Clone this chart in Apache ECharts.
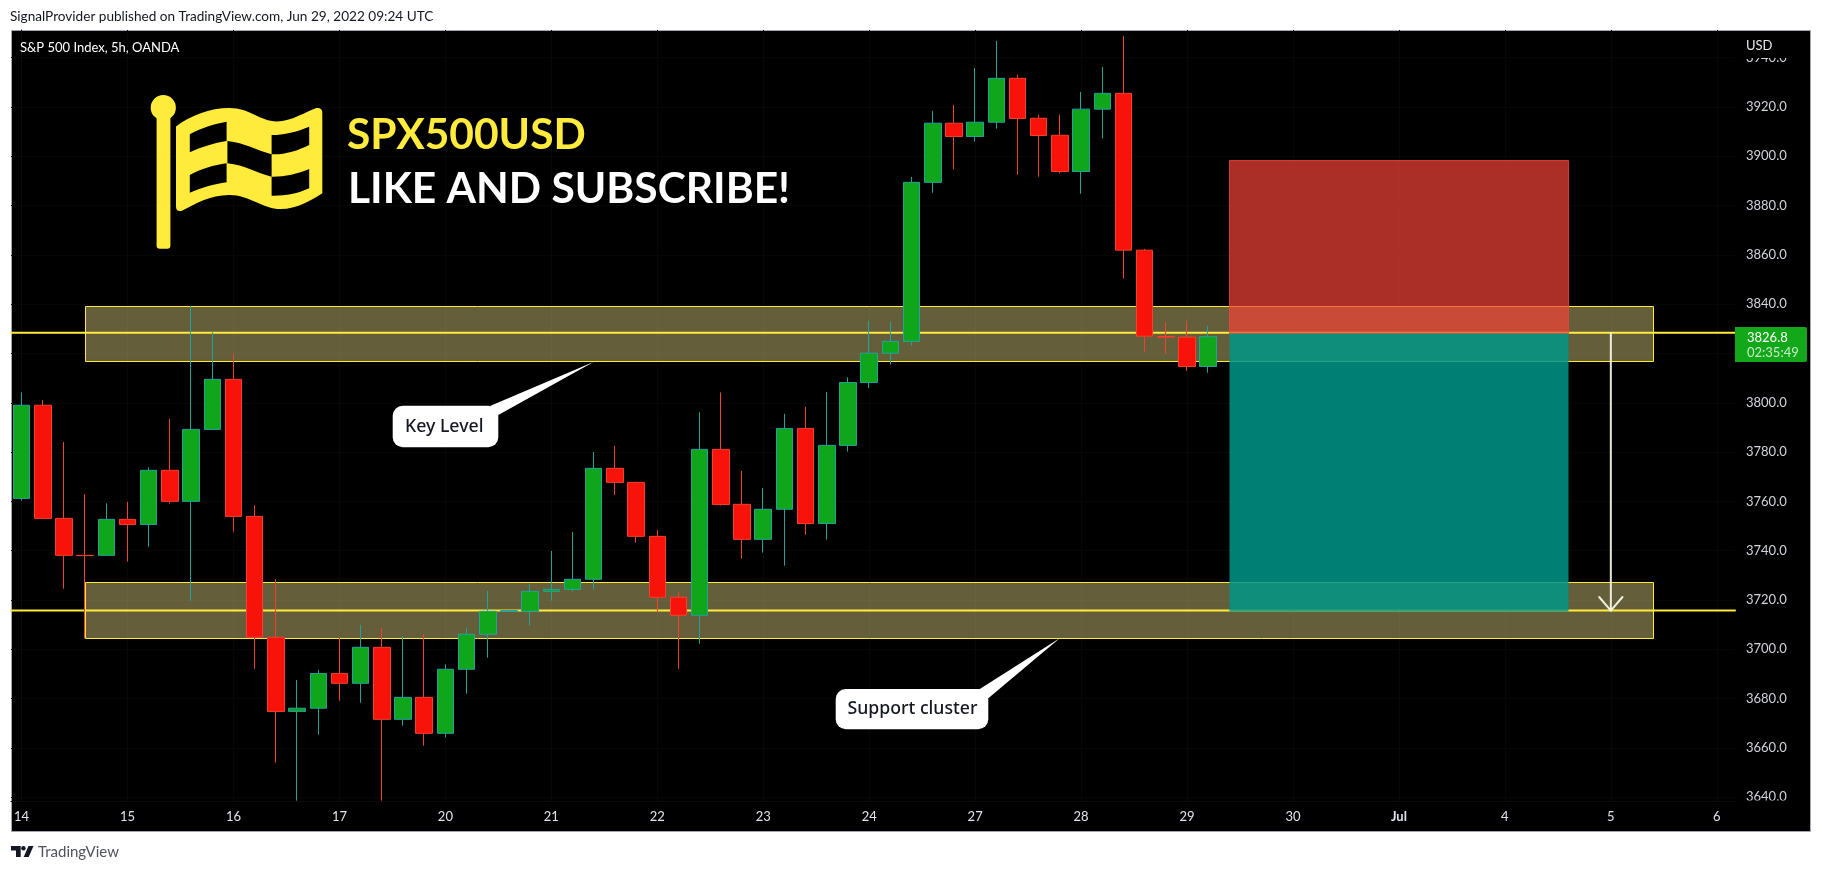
<!DOCTYPE html>
<html><head><meta charset="utf-8">
<style>html,body{margin:0;padding:0;background:#fff}#c{width:1822px;height:871px}</style>
<script src="https://cdn.jsdelivr.net/npm/echarts@6/dist/echarts.min.js"></script>
</head><body><div id="c"></div>
<script>
const opens  = [3761.2,3799.0,3753.1,3738.1,3738.1,3752.7,3750.6,3772.6,3760.0,3789.2,3809.5,3753.9,3704.9,3674.8,3676.1,3690.2,3686.2,3700.8,3671.6,3680.5,3665.9,3691.9,3706.1,3715.4,3715.4,3723.5,3724.3,3728.4,3773.4,3767.7,3745.8,3721.1,3713.8,3781.1,3758.8,3744.6,3756.8,3789.6,3751.0,3782.7,3808.2,3820.1,3824.9,3889.4,3913.4,3908.0,3913.8,3931.6,3915.4,3908.5,3893.8,3919.1,3925.5,3861.9,3826.9,3826.6,3814.7];
const closes = [3799.0,3753.1,3738.1,3738.0,3752.7,3750.6,3772.6,3760.0,3789.2,3809.5,3753.9,3704.9,3674.8,3676.1,3690.2,3686.2,3700.8,3671.6,3680.5,3665.9,3691.9,3706.1,3715.4,3715.7,3723.5,3724.3,3728.4,3773.4,3767.7,3745.8,3721.1,3713.8,3781.1,3758.7,3744.6,3756.8,3789.6,3751.0,3782.7,3808.2,3820.1,3824.9,3889.4,3913.4,3908.0,3913.8,3931.6,3915.3,3908.4,3893.8,3919.1,3925.5,3861.9,3827.0,3826.6,3814.7,3826.8];
const lows   = [3760.3,3753.1,3724.6,3704.4,3738.1,3735.6,3741.6,3759.1,3719.7,3789.2,3747.7,3692.1,3654.0,3638.6,3665.4,3679.2,3678.3,3638.6,3669.0,3660.9,3664.2,3682.0,3696.6,3715.4,3709.6,3719.7,3723.4,3724.2,3762.6,3743.3,3714.9,3692.1,3702.3,3758.3,3736.8,3739.2,3733.9,3746.5,3744.5,3780.2,3806.0,3815.5,3823.2,3885.2,3894.6,3905.9,3911.2,3892.5,3891.7,3893.0,3884.8,3907.2,3850.4,3820.7,3819.9,3813.0,3812.2];
const highs  = [3804.2,3801.1,3784.1,3762.9,3759.2,3759.8,3773.8,3793.4,3839.3,3828.6,3819.8,3758.4,3728.4,3687.5,3691.6,3704.7,3709.9,3708.6,3705.3,3706.2,3693.9,3708.6,3723.7,3715.7,3726.5,3739.9,3747.6,3780.0,3782.5,3767.7,3748.4,3723.2,3796.1,3804.2,3772.3,3765.4,3795.5,3798.3,3804.4,3810.3,3833.2,3832.8,3891.6,3918.4,3920.8,3935.8,3946.8,3933.0,3916.8,3916.8,3926.1,3936.2,3948.8,3862.4,3832.8,3833.2,3831.2];

const priceTicks = [3640,3660,3680,3700,3720,3740,3760,3780,3800,3820,3840,3860,3880,3900,3920,3940];
const dayIndex  = [0,5,10,15,20,25,30,35,40,45,50,55,60,65,70,75,80];
const dayLabels = ['14','15','16','17','20','21','22','23','24','27','28','29','30','Jul','4','5','6'];

// bar index from, bar index to, price top, price bottom
const zoneKey     = [3, 77, 3839.1, 3816.8];
const zoneSupport = [3, 77, 3727.2, 3704.5];
const shortStop   = [57, 73, 3898.5, 3828.2];
const shortTarget = [57, 73, 3828.2, 3715.3];

const levelPrices = [3828.4, 3715.7];
const axisBarMin = -0.5, axisBarMax = 80.86;
const arrowShaft = [[75,3828.2],[75,3715.7]];
const arrowHead  = [[74.45,3721.2],[75,3715.7],[75.55,3721.2]];

const candles = opens.map((o,i)=>[i,o,closes[i],lows[i],highs[i]]);
const FONT = 'Lato';
const YEL = '#FFEB3B';

function rectSeries(rows, style, z){
  return {
    type:'custom', z, silent:true, clip:true,
    encode:{x:[0,1],y:[2,3]},
    data:rows,
    renderItem(p,api){
      const a = api.coord([api.value(0),api.value(2)]);
      const b = api.coord([api.value(1),api.value(3)]);
      const x = Math.round(a[0])+0.5, y = Math.round(a[1])+0.5;
      return {type:'rect',shape:{x,y,width:Math.round(b[0]-a[0]),height:Math.round(b[1]-a[1])},style};
    }
  };
}
function lineSeries(pts, color, width, z){
  return {type:'line',z,data:pts,showSymbol:false,silent:true,animation:false,clip:true,
    lineStyle:{color,width,cap:'round',join:'round'}};
}
function pathEl(pathData, box, fill){
  return {type:'path',silent:true,
    shape:{pathData,layout:'cover',x:box[0],y:box[1],width:box[2],height:box[3]},
    style:{fill}};
}
function txt(text,x,y,size,fill,extra){
  return Object.assign({type:'text',x,y,z:110,silent:true,
    style:Object.assign({text,fill,font:`${size}px ${FONT}`,textAlign:'left',textVerticalAlign:'middle'},extra||{})});
}
function callout(rect, tail, label, lx, ly){
  return [
    {type:'polygon',z:100,silent:true,shape:{points:tail},style:{fill:'#fff'}},
    {type:'rect',z:100,silent:true,shape:{x:rect[0],y:rect[1],width:rect[2],height:rect[3],r:10},style:{fill:'#fff'}},
    txt(label,lx,ly,17.7,'#131722',{font:`500 17.7px "Noto Sans"`})
  ];
}

const flagPaths = [
  pathEl('M176 126.7C190 116 210 108.3 229.3 108.3C250 108.3 260 121.7 276.8 121.7C292 121.7 305 112 316.3 108.3Q322.3 107.5 322.3 113.3L322.3 193.3C310 201 297 209 280.7 209C262 209 250 195 229.3 195C210 195 195 204 181.9 210.7Q176 212 176 206.7Z',[176,108,146.3,103],YEL),
  pathEl('M189.8 134.3C201 128 214 124 226.6 121.7L226.6 141C214 143 201 147 189.8 152.3Z',[189.8,121.7,36.8,30.6],'#000'),
  pathEl('M227.4 141C245 143 256 150 271.6 154.3L271.6 176.7C256 173 245 165 227.4 163.3Z',[227.4,141,44.2,35.7],'#000'),
  pathEl('M271.6 135C284 135 297 132 309.2 126.7L309.2 145C297 151 284 155 271.6 154.3Z',[271.6,126.7,37.6,27.6],'#000'),
  pathEl('M189.8 175C201 169 214 165 226.6 163.3L226.6 182.3C214 184 201 188 189.8 192.7Z',[189.8,163.3,36.8,29.4],'#000'),
  pathEl('M271.6 176.7C284 177 297 174 309.2 169L309.2 188.3C297 194 284 196 271.6 195.7Z',[271.6,169,37.6,26.7],'#000')
];

const graphics = [
  {type:'rect',z:-10,silent:true,shape:{x:11.5,y:30.5,width:1799,height:801},style:{fill:'#000',stroke:'#a3a6af',lineWidth:1}},
  // price-scale masks
  {type:'rect',z:90,silent:true,shape:{x:1737,y:32,width:72,height:26},style:{fill:'#000'}},
  {type:'rect',z:90,silent:true,shape:{x:1737,y:800.5,width:72,height:30},style:{fill:'#000'}},
  txt('USD',1746,46,13,'#e6e8ee'),
  // last-price tag
  {type:'rect',z:100,silent:true,shape:{x:1735,y:327,width:72,height:35,r:[0,2,2,0]},style:{fill:'#13A81A'}},
  txt('3826.8',1747,337.5,13,'#ffffff'),
  txt('02:35:49',1747,353,13,'#c5ecc7'),
  // page texts
  txt('SignalProvider published on TradingView.com, Jun 29, 2022 09:24 UTC',10,17,13.6,'#131722'),
  txt('S&P 500 Index, 5h, OANDA',20,47.5,13,'#ffffff'),
  txt('SPX500USD',347,135,42.5,YEL,{font:`bold 42.5px ${FONT}`}),
  txt('LIKE AND SUBSCRIBE!',348,189,42.5,'#ffffff',{font:`bold 42.5px ${FONT}`}),
  txt('TradingView',38,852,15,'#50535e'),
  // logo flag pole
  {type:'circle',z:100,silent:true,shape:{cx:163.3,cy:107.7,r:12.6},style:{fill:YEL}},
  {type:'rect',z:100,silent:true,shape:{x:156.6,y:110,width:13.8,height:138.7,r:3},style:{fill:YEL}},
  // TradingView mark
  {type:'polygon',z:100,silent:true,shape:{points:[[11,846],[20.7,846],[20.7,857],[16,857],[16,850.5],[11,850.5]]},style:{fill:'#131722'}},
  {type:'circle',z:100,silent:true,shape:{cx:23.4,cy:848.2,r:2.2},style:{fill:'#131722'}},
  {type:'polygon',z:100,silent:true,shape:{points:[[28.5,846],[33.5,846],[28.7,857],[23.7,857]]},style:{fill:'#131722'}},
  // callouts
  ...callout([392.7,405.7,105.6,41.6],[[490,406],[594,361.7],[498.3,415]],'Key Level',405,427),
  ...callout([835.7,689,152.6,40.3],[[979,689.5],[1060,638],[988.3,698.3]],'Support cluster',847.5,708.5)
];

const chart = echarts.init(document.getElementById('c'),null,{renderer:'canvas'});
chart.setOption({
  animation:false,
  backgroundColor:'#ffffff',
  textStyle:{fontFamily:FONT},
  grid:{left:11,right:87,top:30,bottom:70,containLabel:false},
  xAxis:{
    type:'value',min:axisBarMin,max:axisBarMax,
    axisLine:{show:true,lineStyle:{color:'#0c0c0c'}},
    axisTick:{show:false,customValues:dayIndex},
    splitLine:{show:true,lineStyle:{color:'#070707'}},
    axisLabel:{customValues:dayIndex,margin:9,color:'#e0e3eb',fontSize:13,fontFamily:FONT,
      formatter:v=>{const s=dayLabels[dayIndex.indexOf(v)];return s==='Jul'?'{b|Jul}':s;},
      rich:{b:{fontWeight:'bold',fontSize:13,color:'#e0e3eb',fontFamily:FONT}}}
  },
  yAxis:{
    type:'value',position:'right',scale:true,min:3638.46,max:3951.2,
    axisLine:{show:true,lineStyle:{color:'#0c0c0c'}},
    axisTick:{show:false,customValues:priceTicks},
    splitLine:{show:true,lineStyle:{color:'#070707'}},
    axisLabel:{customValues:priceTicks,margin:11,color:'#d1d4dc',fontSize:13,fontFamily:FONT,
      formatter:v=>v.toFixed(1)}
  },
  series:[
    rectSeries([zoneKey,zoneSupport],{fill:'rgba(253,234,148,0.4)',stroke:YEL,lineWidth:1},1),
    lineSeries([[axisBarMin,levelPrices[0]],[axisBarMax,levelPrices[0]]],YEL,2,2),
    lineSeries([[axisBarMin,levelPrices[1]],[axisBarMax,levelPrices[1]]],YEL,2,2),
    rectSeries([shortStop],{fill:'rgba(244,67,54,0.7)',stroke:'rgba(244,67,54,0.8)',lineWidth:1},3),
    rectSeries([shortTarget],{fill:'rgba(0,150,136,0.85)'},3),
    {type:'candlestick',z:4,data:candles,barWidth:17,silent:true,
      encode:{x:0,y:[1,2,3,4]},
      itemStyle:{color:'#10A61B',color0:'#F8130A',borderColor:'#22A39A',borderColor0:'#F4402F',borderWidth:1}},
    lineSeries(arrowShaft,'rgba(255,255,240,0.9)',2,5),
    lineSeries(arrowHead,'rgba(255,255,240,0.9)',2,5),
    {type:'custom',coordinateSystem:'none',z:50,silent:true,clip:false,data:[[0]],
      renderItem(){return {type:'group',children:flagPaths};}}
  ],
  graphic:graphics
});
</script></body></html>
